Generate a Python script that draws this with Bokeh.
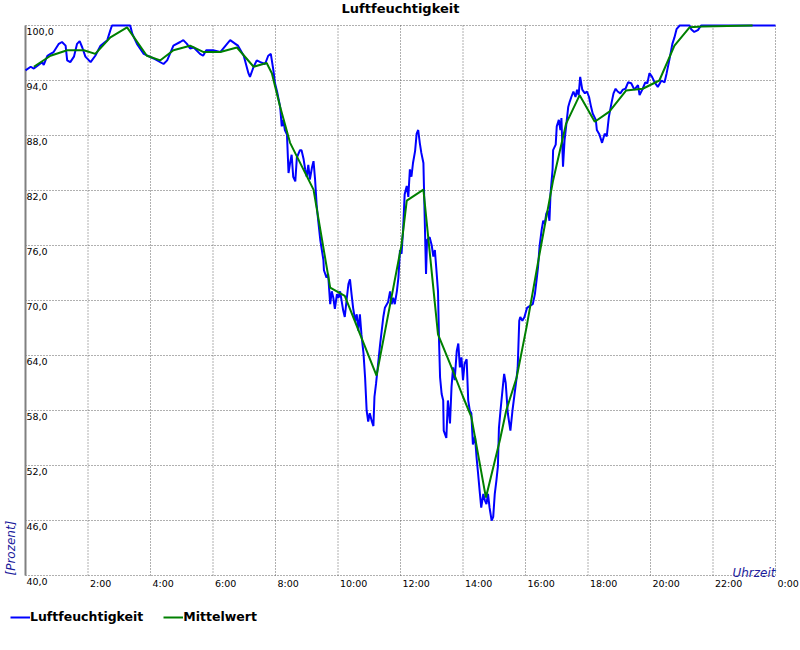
import math
from bokeh.plotting import figure
from bokeh.models import Range1d, Label, LabelSet, Legend, LegendItem, ColumnDataSource
from bokeh.core.properties import value
from bokeh.embed import file_html
from bokeh.resources import INLINE

TITLE = "Luftfeuchtigkeit"
Y_LABEL = "[Prozent]"
X_LABEL = "Uhrzeit"
SERIES_NAMES = ["Luftfeuchtigkeit", "Mittelwert"]

# Luftfeuchtigkeit: minutes after midnight, percent
hum_min = [0, 10, 16, 25, 32, 35, 42, 48, 54, 64, 70, 77, 80, 86, 93, 99, 104, 109, 115, 125,
           134, 144, 157, 163, 166, 201, 205, 214, 227, 246, 265, 272, 284, 297, 303, 310, 316, 323, 335, 341,
           347, 360, 374, 387, 393, 403, 408, 419, 428, 431, 438, 444, 451, 460, 466, 471, 476, 479, 483, 489,
           492, 495, 498, 502, 505, 508, 511, 514, 518, 521, 527, 530, 534, 537, 540, 543, 546, 550, 553, 556,
           559, 562, 566, 572, 573, 578, 581, 585, 588, 591, 594, 598, 601, 604, 610, 613, 617, 620, 623, 626,
           629, 633, 636, 639, 642, 645, 649, 652, 655, 658, 661, 665, 668, 670, 673, 677, 681, 687, 690, 696,
           700, 703, 706, 709, 713, 716, 719, 722, 725, 728, 732, 735, 738, 741, 744, 748, 751, 754, 757, 760,
           764, 765, 769, 771, 776, 780, 783, 786, 789, 792, 794, 796, 799, 802, 803, 808, 811, 815, 818, 821,
           824, 828, 831, 834, 837, 840, 843, 847, 850, 853, 856, 859, 863, 866, 869, 872, 875, 879, 882, 885,
           888, 891, 895, 898, 901, 904, 907, 909, 912, 917, 919, 922, 923, 926, 931, 935, 939, 943, 945, 948,
           950, 954, 958, 963, 968, 974, 978, 981, 984, 987, 991, 994, 997, 1000, 1003, 1006, 1008, 1012, 1013, 1018,
           1020, 1024, 1027, 1029, 1032, 1035, 1038, 1042, 1045, 1048, 1052, 1056, 1059, 1062, 1065, 1069, 1074, 1078, 1082, 1086,
           1089, 1095, 1097, 1102, 1107, 1112, 1116, 1120, 1125, 1129, 1133, 1137, 1142, 1147, 1152, 1157, 1163, 1169, 1176, 1179,
           1185, 1190, 1194, 1198, 1203, 1208, 1214, 1221, 1227, 1231, 1236, 1242, 1246, 1250, 1256, 1275, 1278, 1284, 1291, 1297,
           1440]
hum_val = [95.1, 95.5, 95.3, 95.7, 96.0, 95.7, 96.7, 96.9, 97.1, 98.0, 98.2, 97.8, 96.2, 96.0, 96.6, 98.0, 98.3, 97.6, 96.6, 96.0,
           96.7, 97.8, 98.4, 99.5, 100.0, 100.0, 99.1, 98.0, 96.9, 96.4, 95.8, 96.2, 97.8, 98.2, 98.4, 98.0, 97.5, 97.6, 96.9, 96.7,
           97.3, 97.3, 97.1, 98.0, 98.4, 98.0, 97.8, 96.7, 94.8, 94.4, 95.5, 96.2, 96.0, 95.8, 96.7, 96.9, 95.1, 93.7, 92.8, 91.1,
           89.0, 89.7, 88.6, 88.1, 83.9, 85.0, 85.9, 83.5, 83.0, 85.6, 86.4, 86.4, 85.4, 84.3, 83.5, 84.8, 83.2, 84.5, 85.2, 83.2,
           80.4, 78.7, 76.6, 74.4, 73.3, 72.5, 72.9, 69.6, 71.0, 70.3, 69.1, 70.7, 70.3, 71.0, 68.9, 68.2, 70.3, 71.8, 72.3, 70.7,
           69.2, 67.8, 68.5, 66.7, 68.5, 66.3, 64.2, 61.6, 58.0, 56.8, 57.7, 56.8, 56.3, 59.5, 60.9, 63.1, 65.3, 68.2, 69.2, 69.8,
           71.0, 69.6, 70.3, 69.6, 71.0, 72.5, 75.5, 75.1, 77.7, 81.6, 82.5, 81.3, 84.3, 83.5, 85.0, 86.3, 88.2, 88.6, 87.2, 86.1,
           85.0, 82.5, 72.9, 76.6, 76.9, 76.0, 74.8, 75.5, 73.3, 71.0, 65.6, 61.6, 59.8, 59.1, 55.8, 55.0, 59.1, 56.6, 60.6, 62.7,
           61.3, 64.5, 65.3, 62.7, 63.8, 61.3, 63.1, 63.6, 59.1, 58.0, 57.7, 54.3, 55.2, 52.9, 51.1, 49.2, 47.4, 48.9, 48.2, 47.8,
           48.9, 47.4, 46.0, 46.4, 48.9, 50.3, 51.9, 56.1, 58.0, 60.9, 62.0, 61.0, 60.2, 57.7, 55.8, 58.0, 59.8, 61.6, 62.7, 67.8,
           68.2, 67.8, 68.2, 69.2, 69.4, 69.6, 70.7, 72.1, 73.6, 75.9, 77.7, 78.7, 78.4, 79.5, 79.8, 78.7, 81.6, 84.3, 86.4, 87.0,
           89.0, 89.7, 88.6, 89.9, 84.6, 87.5, 89.0, 91.1, 91.7, 92.2, 92.8, 92.2, 93.0, 92.4, 94.4, 93.0, 92.6, 92.8, 92.2, 91.1,
           90.4, 89.7, 88.6, 88.1, 87.2, 88.2, 87.9, 90.0, 91.5, 92.6, 93.1, 92.8, 92.6, 93.0, 93.1, 93.8, 93.7, 93.0, 93.5, 92.4,
           93.1, 93.8, 93.7, 94.8, 94.4, 93.8, 93.3, 94.0, 93.8, 94.8, 96.2, 98.0, 98.7, 99.6, 100.0, 100.0, 99.6, 99.3, 99.5, 100.0,
           100.0]

# Mittelwert: minutes after midnight, percent
avg_min = [16, 48, 80, 112, 134, 163, 195, 233, 259, 284, 316, 342, 374, 406, 438, 463, 473, 489, 508, 553,
           585, 613, 674, 722, 732, 764, 792, 818, 840, 856, 884, 911, 923, 943, 962, 987, 1013, 1038, 1064, 1093,
           1121, 1153, 1185, 1217, 1246, 1275, 1300, 1396]
avg_val = [95.5, 96.7, 97.3, 97.3, 96.9, 98.7, 99.8, 96.7, 96.2, 97.3, 97.8, 97.1, 97.1, 97.6, 95.5, 95.9, 94.8, 91.1, 87.2, 82.1,
           71.4, 70.5, 61.8, 76.1, 80.9, 82.1, 66.3, 62.7, 59.5, 57.3, 48.5, 54.8, 58.0, 61.6, 67.1, 75.1, 83.1, 89.3, 92.4, 89.5,
           90.6, 92.9, 93.1, 94.0, 97.8, 99.8, 99.9, 100.0]

y_ticks = [40, 46, 52, 58, 64, 70, 76, 82, 88, 94, 100]
y_tick_labels = ["40,0", "46,0", "52,0", "58,0", "64,0", "70,0", "76,0", "82,0", "88,0", "94,0", "100,0"]
x_ticks = [120, 240, 360, 480, 600, 720, 840, 960, 1080, 1200, 1320, 1440]
x_tick_labels = ["2:00", "4:00", "6:00", "8:00", "10:00", "12:00", "14:00", "16:00", "18:00", "20:00", "22:00", "0:00"]

X_MIN, X_MAX = 0, 1440
Y_MIN, Y_MAX = 40, 100

FONT = "DejaVu Sans"
AX_COLOR = "#1c1c9c"
GRID_COLOR = "#606060"

# The plot frame covers the whole canvas; the chart area spans 750 x 550 px
# starting 25 px from the left/top edges.
W, H = 800, 650
PL, PT, PW, PH = 25, 25, 750, 550
xs = (X_MAX - X_MIN) / PW
ys = (Y_MAX - Y_MIN) / PH
x_range = Range1d(X_MIN - PL * xs, X_MAX + (W - PL - PW) * xs)
y_range = Range1d(Y_MIN - (H - PT - PH) * ys, Y_MAX + PT * ys)

p = figure(width=W, height=H, min_border=0, x_range=x_range, y_range=y_range,
           output_backend="svg", toolbar_location=None)
p.outline_line_color = None
p.background_fill_color = "white"
p.border_fill_color = "white"
p.axis.visible = False
p.grid.visible = False

# dotted grid
p.segment(x0=x_ticks, y0=[Y_MIN] * len(x_ticks), x1=x_ticks, y1=[Y_MAX] * len(x_ticks),
          line_color=GRID_COLOR, line_width=1, line_dash="1 2")
p.segment(x0=[X_MIN] * len(y_ticks), y0=y_ticks, x1=[X_MAX] * len(y_ticks), y1=y_ticks,
          line_color=GRID_COLOR, line_width=1, line_dash="1 2")
# left axis line
p.segment(x0=[X_MIN], y0=[Y_MIN], x1=[X_MIN], y1=[Y_MAX], line_color="#808080", line_width=2)

r_hum = p.line(hum_min, hum_val, line_width=2, line_color="#0000ff")
r_avg = p.line(avg_min, avg_val, line_width=2, line_color="#008000")

ysrc = ColumnDataSource(dict(x=[X_MIN] * len(y_ticks), y=y_ticks, text=y_tick_labels))
p.add_layout(LabelSet(x="x", y="y", text="text", source=ysrc, x_offset=1, y_offset=-2,
                      text_align="left", text_baseline="top", text_font=value(FONT),
                      text_font_size=value("9.5px"), text_color="black"))
xsrc = ColumnDataSource(dict(x=x_ticks, y=[Y_MIN] * len(x_ticks), text=x_tick_labels))
p.add_layout(LabelSet(x="x", y="y", text="text", source=xsrc, x_offset=2, y_offset=-2,
                      text_align="left", text_baseline="top", text_font=value(FONT),
                      text_font_size=value("9.5px"), text_color="black"))

p.add_layout(Label(x=(X_MIN + X_MAX) / 2, y=Y_MAX, y_offset=17, text=TITLE, text_align="center",
                   text_baseline="middle", text_font=FONT, text_font_style="bold",
                   text_font_size="13px", text_color="black"))
p.add_layout(Label(x=X_MIN, y=Y_MIN, x_offset=-15, text=Y_LABEL, angle=math.pi / 2,
                   text_align="left", text_baseline="middle", text_font=FONT,
                   text_font_style="italic", text_font_size="12px", text_color=AX_COLOR))
p.add_layout(Label(x=X_MAX, y=Y_MIN, y_offset=3, text=X_LABEL, text_align="right",
                   text_baseline="alphabetic", text_font=FONT,
                   text_font_style="italic", text_font_size="12px", text_color=AX_COLOR))

legend = Legend(items=[LegendItem(label=SERIES_NAMES[0], renderers=[r_hum]),
                       LegendItem(label=SERIES_NAMES[1], renderers=[r_avg])],
                orientation="horizontal", location=(10, 26),
                glyph_width=20, glyph_height=14, label_height=14, label_standoff=0,
                spacing=20, padding=0, margin=0, border_line_color=None,
                background_fill_alpha=0, label_text_font=FONT, label_text_font_style="bold",
                label_text_font_size="12.5px", label_text_color="black")
p.add_layout(legend, "center")

open("out.html", "w").write(file_html(p, INLINE))
